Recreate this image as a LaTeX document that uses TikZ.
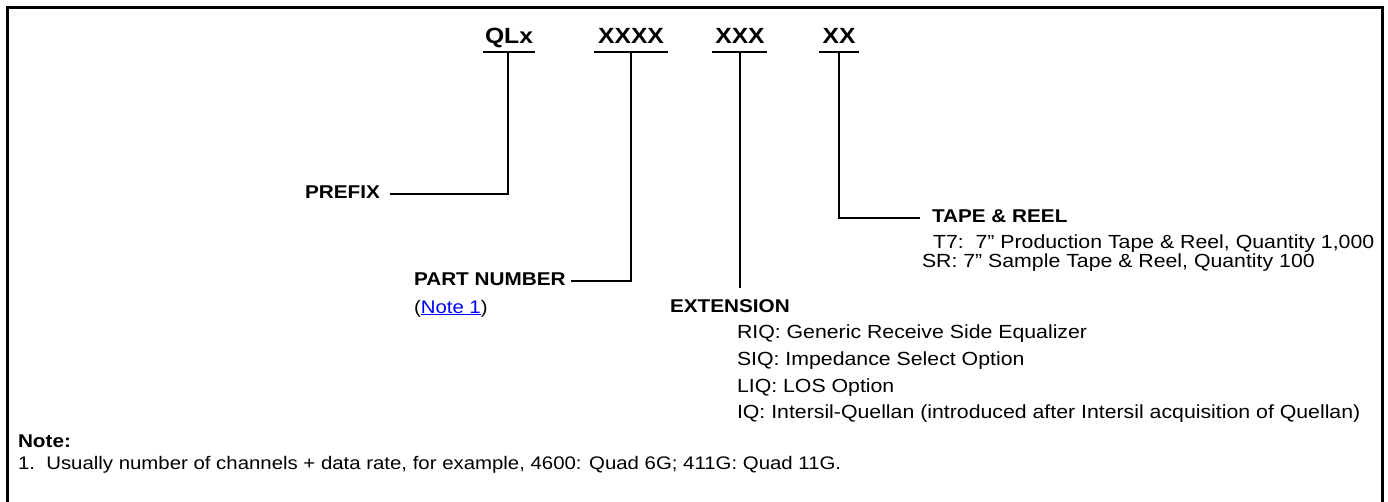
\documentclass[tikz,border=0pt]{standalone}
\usepackage{fontspec}
\setmainfont{Liberation Sans}[FakeStretch=1.12]
\begin{document}
\begin{tikzpicture}[x=1pt,y=-1pt,
  every node/.style={inner sep=0pt,outer sep=0pt,anchor=base west},
  code/.style={font=\fontsize{22}{24}\selectfont\bfseries,anchor=base},
  head/.style={font=\fontsize{18.5}{22}\selectfont\bfseries},
  body/.style={font=\fontsize{19}{22}\selectfont},
  small/.style={font=\fontsize{18.2}{22}\selectfont},
  conn/.style={line width=2pt},
  frame/.style={line width=3pt}]
\useasboundingbox (0,0) rectangle (1388,501);
\clip (0,0) rectangle (1388,501);
\draw[frame] (7,510) -- (7,7) -- (1382,7) -- (1382,510);
% code letters
\node[code] (qlx) at (509,43) {QLx};
\node[code] (c4) at (631,43) {XXXX};
\node[code] (c3) at (740,43) {XXX};
\node[code] (c2) at (839,43) {XX};
% underlines
\coordinate (u1) at (508,52);
\coordinate (u2) at (631,52);
\coordinate (u3) at (740,52);
\coordinate (u4) at (839,52);
\draw[conn] (483,52) -- (535,52);
\draw[conn] (594,52) -- (668,52);
\draw[conn] (712,52) -- (767,52);
\draw[conn] (819,52) -- (859,52);
% labels
\node[head] (prefix) at (305,198) {PREFIX};
\node[head] (part) at (414,285) {PART NUMBER};
\node[small] (note1) at (414,313) {(\textcolor{blue}{\underline{Note 1}})};
\node[head] (ext) at (670,312) {EXTENSION};
\node[body] (riq) at (737,338) {RIQ: Generic Receive Side Equalizer};
\node[body] (siq) at (737,365) {SIQ: Impedance Select Option};
\node[body] (liq) at (737,392) {LIQ: LOS Option};
\node[body] (iq) at (737,418) {IQ: Intersil-Quellan (introduced after Intersil acquisition of Quellan)};
\node[head] (tape) at (932,222) {TAPE \& REEL};
\node[body] (t7) at (933,248) {T7:\ \ 7” Production Tape \& Reel, Quantity 1,000};
\node[body] (sr) at (922,267) {SR: 7” Sample Tape \& Reel, Quantity 100};
\node[head] (note) at (18,447) {Note:};
\node[small] (n1) at (18,469) {1.\ \ Usually number of channels + data rate, for example, 4600: Quad 6G; 411G: Quad 11G.};
% connectors
\draw[conn] (u1) |- ([xshift=10pt,yshift=1pt]prefix.mid east);
\draw[conn] (u2) |- ([xshift=5pt,yshift=1pt]part.mid east);
\draw[conn] (u3) -- ([yshift=11pt]ext.north -| u3);
\draw[conn] (u4) |- ([xshift=-12pt,yshift=1pt]tape.mid west);
\end{tikzpicture}
\end{document}
